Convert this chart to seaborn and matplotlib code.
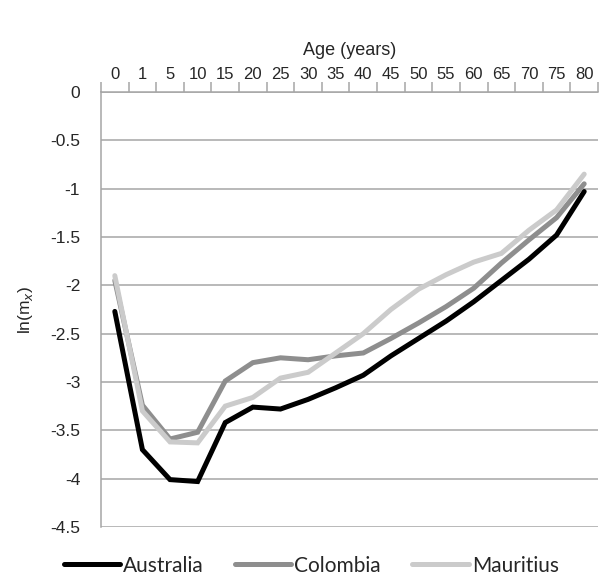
#!/usr/bin/env python3
import seaborn as sns
import pandas as pd
import numpy as np
import matplotlib
matplotlib.use("Agg")
import matplotlib.pyplot as plt
from matplotlib.lines import Line2D

sns.set_style("white")
plt.rcParams['font.family'] = ['Liberation Sans', 'DejaVu Sans']

ages = ["0", "1", "5", "10", "15", "20", "25", "30", "35", "40",
        "45", "50", "55", "60", "65", "70", "75", "80"]
australia = [-2.27, -3.70, -4.01, -4.03, -3.42, -3.26, -3.28, -3.18, -3.06, -2.93,
             -2.73, -2.55, -2.37, -2.17, -1.95, -1.73, -1.48, -1.03]
colombia = [-1.95, -3.24, -3.59, -3.52, -2.99, -2.80, -2.75, -2.77, -2.73, -2.70,
            -2.55, -2.39, -2.22, -2.03, -1.77, -1.53, -1.30, -0.95]
mauritius = [-1.90, -3.30, -3.62, -3.63, -3.25, -3.16, -2.96, -2.90, -2.70, -2.50,
             -2.25, -2.04, -1.89, -1.76, -1.67, -1.43, -1.22, -0.85]
countries = ["Australia", "Colombia", "Mauritius"]
colors = ["#000000", "#8e8e8e", "#cbcbcb"]

rows = []
for name, vals in zip(countries, [australia, colombia, mauritius]):
    for i, v in enumerate(vals):
        rows.append({"pos": i, "age": ages[i], "country": name, "lnmx": v})
df = pd.DataFrame(rows)

fig = plt.figure(figsize=(6.03, 5.77), dpi=100)
ax = fig.add_axes([0.1675, 0.0867, 0.8242, 0.7539])

sns.lineplot(data=df, x="pos", y="lnmx", hue="country", palette=colors,
             linewidth=3.6, ax=ax, legend=False, solid_joinstyle="miter")

ax.set_xlim(-0.5, len(ages) - 0.5)
ax.set_ylim(-4.5, 0)
ax.set_yticks(np.arange(-4.5, 0.01, 0.5))
ax.set_yticklabels(["-4.5", "-4", "-3.5", "-3", "-2.5", "-2", "-1.5", "-1", "-0.5", "0"])
ax.yaxis.grid(True, color="#a6a6a6", linewidth=1.1)
ax.set_axisbelow(True)

# category axis on top, ticks between categories
ax.xaxis.tick_top()
ax.xaxis.set_label_position("top")
ax.set_xticks(np.arange(len(ages)))
ax.set_xticklabels(ages)
ax.set_xticks(np.arange(-0.5, len(ages), 1.0), minor=True)
ax.tick_params(axis="x", which="major", length=0, pad=7, labelsize=12)
ax.tick_params(axis="x", which="minor", length=7.5, width=1.1, color="#a6a6a6", direction="out")
ax.tick_params(axis="y", length=7, width=1.1, color="#a6a6a6", direction="out", labelsize=12.5, pad=8)

for s in ["right", "bottom"]:
    ax.spines[s].set_visible(False)
ax.spines["left"].set_color("#a6a6a6")
ax.spines["left"].set_linewidth(1.1)
ax.spines["top"].set_color("#a6a6a6")
ax.spines["top"].set_linewidth(1.1)

ax.set_xlabel("Age (years)", fontsize=13, labelpad=9)
ax.set_ylabel("ln(m$_x$)", fontsize=12.5, labelpad=11)

handles = [Line2D([0], [0], color=c, linewidth=3.6) for c in colors]
fig.legend(handles, countries, loc="lower center", bbox_to_anchor=(0.516, -0.03),
           ncol=3, frameon=False, handlelength=2.7, handletextpad=0.15,
           columnspacing=1.5, prop={"family": ["Lato", "DejaVu Sans"], "size": 15})

fig.savefig("out.png", dpi=100)
